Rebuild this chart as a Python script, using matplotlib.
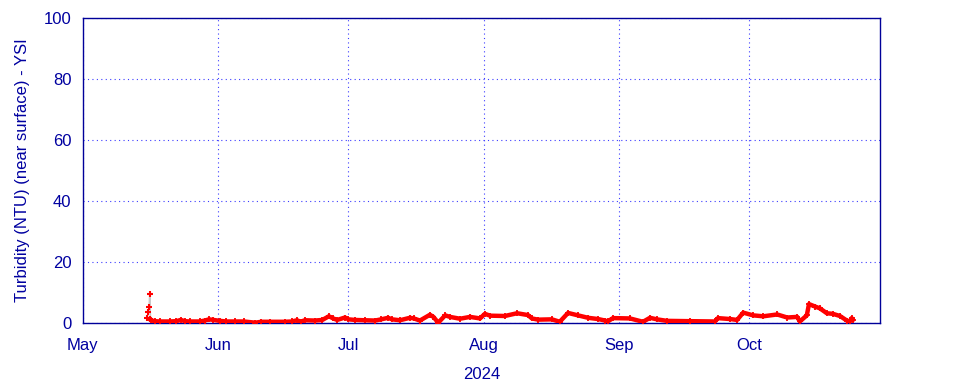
import matplotlib
matplotlib.use("Agg")
import matplotlib.pyplot as plt
import numpy as np
import pandas as pd

plt.rcParams['font.family'] = ['Liberation Sans', 'DejaVu Sans']

# Days since 2024-05-01 and turbidity (NTU)
START = pd.Timestamp("2024-05-01")

# spike at the start of the deployment
spike_days = [14.8, 15.1, 15.25, 15.4, 15.55]
spike_vals = [1.5, 3.5, 5.3, 9.4, 1.2]

turb_days = [
    15.6, 16.5, 17.7, 20.0, 21.5, 22.5, 23.5, 24.6, 26.9, 28.0,
    29.0, 30.0, 31.5, 33.0, 35.0, 37.0, 39.6, 41.0, 43.0, 46.4,
    48.0, 49.2, 50.0, 51.0, 53.3, 55.0, 56.5, 57.5, 58.4, 60.2,
    61.0, 62.5, 64.8, 67.1, 68.5, 70.1, 71.0, 72.8, 75.1, 76.0,
    77.4, 79.7, 80.5, 81.6, 83.2, 84.3, 86.6, 88.9, 91.2, 92.3,
    93.5, 96.9, 99.7, 102.2, 103.1, 104.5, 107.7, 109.5, 111.4, 113.7,
    116.0, 118.3, 119.9, 120.5, 121.7, 125.6, 128.6, 130.2, 131.8, 134.1,
    139.4, 145.1, 145.8, 148.6, 150.2, 151.6, 153.9, 156.2, 159.4, 161.7,
    164.0, 164.6, 166.2, 166.7, 168.1, 169.2, 170.8, 172.2, 173.8, 175.4,
    176.1, 176.5, 176.8,
]
turb_vals = [
    0.9, 0.6, 0.5, 0.5, 0.6, 1.0, 0.6, 0.5, 0.5, 0.8,
    1.2, 1.0, 0.7, 0.5, 0.5, 0.5, 0.1, 0.4, 0.4, 0.4,
    0.5, 0.9, 0.4, 0.9, 0.8, 1.0, 2.2, 1.5, 1.0, 1.8,
    1.2, 1.0, 0.9, 0.8, 1.2, 1.7, 1.2, 0.9, 1.7, 1.5,
    0.8, 2.7, 2.0, 0.1, 2.5, 2.0, 1.4, 2.0, 1.5, 3.0,
    2.4, 2.3, 3.2, 2.6, 1.5, 1.1, 1.2, 0.4, 3.3, 2.5,
    1.7, 1.3, 0.8, 0.5, 1.6, 1.5, 0.4, 1.7, 1.2, 0.7,
    0.6, 0.5, 1.6, 1.3, 1.0, 3.4, 2.5, 2.2, 2.8, 1.8,
    2.0, 0.5, 2.5, 6.2, 5.4, 4.8, 3.2, 3.0, 2.3, 0.8,
    0.5, 1.6, 1.0,
]

month_ticks = ["2024-05-01", "2024-06-01", "2024-07-01", "2024-08-01",
               "2024-09-01", "2024-10-01"]
month_labels = ["May", "Jun", "Jul", "Aug", "Sep", "Oct"]
y_ticks = [0, 20, 40, 60, 80, 100]

TEXT = '#0000a0'
AXIS = '#000099'
GRID = '#3c3cff'

fig = plt.figure(figsize=(9.6, 3.84), dpi=100)
ax = fig.add_axes([82.7 / 960, 61 / 384, 797.3 / 960, 305 / 384])

spike_t = [START + pd.Timedelta(days=d) for d in spike_days]
turb_t = [START + pd.Timedelta(days=d) for d in turb_days]

ax.plot(spike_t, spike_vals, color='#c8c8c8', lw=1.2, zorder=2)
ax.plot(spike_t, spike_vals, linestyle='none', marker='+', ms=5, mew=1.5,
        color='red', zorder=3)
ax.plot(turb_t, turb_vals, color='red', lw=3.2, solid_joinstyle='round',
        solid_capstyle='round', zorder=3)
ax.plot(turb_t, turb_vals, linestyle='none', marker='+', ms=5, mew=1.3,
        color='red', zorder=3)

ax.set_xlim(pd.Timestamp("2024-05-01"), pd.Timestamp("2024-10-31"))
ax.set_ylim(0, 100)

ax.set_xticks([pd.Timestamp(m) for m in month_ticks])
ax.set_xticklabels(month_labels)
ax.set_yticks(y_ticks)

ax.grid(True, linestyle=(0, (1, 3)), color=GRID, lw=0.8)
ax.tick_params(axis='both', length=0, labelsize=12, labelcolor=TEXT)
ax.tick_params(axis='x', pad=11)
ax.tick_params(axis='y', pad=8)

for sp in ax.spines.values():
    sp.set_color(AXIS)
    sp.set_linewidth(1.0)

ax.set_ylabel("Turbidity (NTU) (near surface) - YSI", fontsize=12,
              color=TEXT, labelpad=10)
ax.set_xlabel("2024", fontsize=12, color=TEXT, labelpad=10)

fig.savefig("out.png", dpi=100)
